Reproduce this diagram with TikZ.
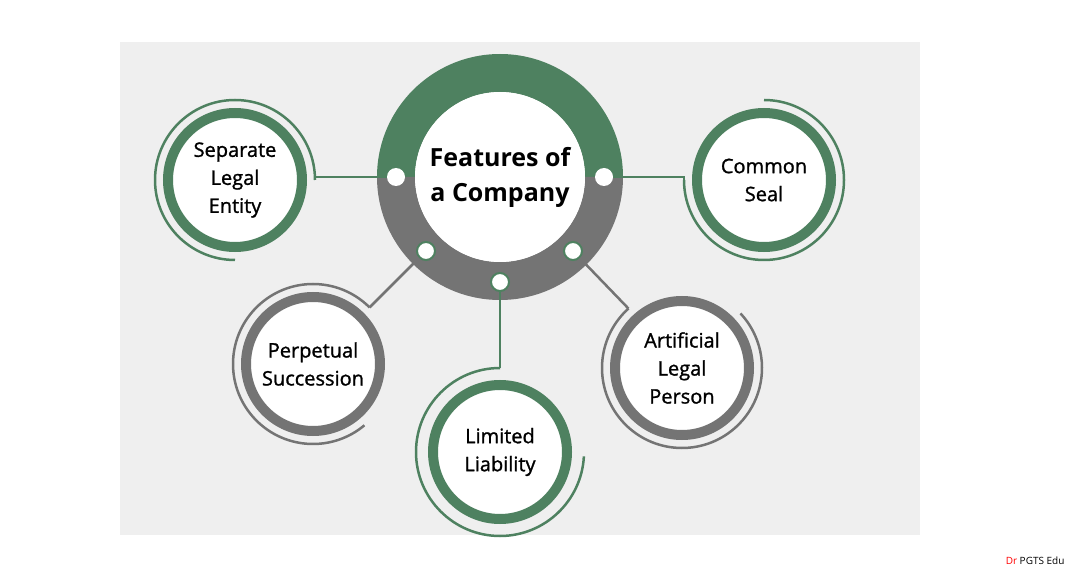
\documentclass[tikz,border=0pt]{standalone}
\usepackage{fontspec}
\setmainfont{Open Sans}
\newfontfamily\medfont[FakeBold=1.2]{Open Sans}
\usetikzlibrary{positioning}
\definecolor{cogreen}{HTML}{4E8160}
\definecolor{cogray}{HTML}{747474}
\definecolor{cobg}{HTML}{EFEFEF}
\tikzset{
    feature/.style = {circle, fill=white, draw=#1, line width=10pt, minimum size=134pt,
        inner sep=0pt, align=center, font=\fontsize{20}{28}\medfont},
    halo/.style = {draw=#1, line width=2.5pt},
    link/.style = {draw=#1, line width=2.5pt},
    hubdot/.style = {circle, fill=white, minimum size=18pt, inner sep=0pt},
    gdot/.style = {hubdot, draw=cogreen, line width=2pt},
}
\begin{document}
\begin{tikzpicture}[x=1pt, y=-1pt]
    \useasboundingbox (0,0) rectangle (1080,580);
    \fill[cobg] (120,42) rectangle (920,535);
    % hub ring
    \fill[cogreen] (377,177) arc[start angle=180, end angle=360, radius=123]
        -- (585,177) arc[start angle=360, end angle=180, radius=85] -- cycle;
    \fill[cogray] (377,177) arc[start angle=180, end angle=0, radius=123]
        -- (585,177) arc[start angle=0, end angle=180, radius=85] -- cycle;
    \node (hub) [circle, fill=white, minimum size=170pt, inner sep=0pt, align=center,
        font=\fontsize{25}{35}\selectfont\bfseries] at (500,177) {Features of\\a Company};
    \node (d1) [hubdot] at (396,177) {};
    \node (d2) [hubdot] at (604,177) {};
    \node (d3) [gdot] at (426,251) {};
    \node (d4) [gdot] at (500,282) {};
    \node (d5) [gdot] at (573,251) {};
    % features
    \node (sep) [feature=cogreen] at (235,180) {Separate\\Legal\\Entity};
    \node (seal) [feature=cogreen] at (764,180) {Common\\Seal};
    \node (perp) [feature=cogray] at (313,364) {Perpetual\\Succession};
    \node (lim) [feature=cogreen] at (500,452) {Limited\\Liability};
    \node (art) [feature=cogray] at (682,368) {Artificial\\Legal\\Person};
    % halos
    \draw[halo=cogreen] (sep.center) ++(0,80) arc[start angle=90, end angle=360, radius=80]
        coordinate (sepend);
    \draw[halo=cogreen] (seal.center) ++(-80,0) coordinate (sealend)
        arc[start angle=180, end angle=-90, radius=80];
    \draw[halo=cogray] (perp.center) ++(-45:80) coordinate (perpend)
        arc[start angle=-45, end angle=-310, radius=80];
    \draw[halo=cogreen] (lim.center) ++(0,-84) coordinate (limend)
        arc[start angle=-90, end angle=-357, radius=84];
    \draw[halo=cogray] (art.center) ++(-132:80) coordinate (artend)
        arc[start angle=-132, end angle=-403, radius=80];
    % links
    \draw[link=cogreen] (d1) -- (d1 -| sepend) -- (sepend);
    \draw[link=cogreen] (d2) -- (d2 -| sealend) -- (sealend);
    \draw[link=cogray] (d3) -- (perpend);
    \draw[link=cogreen] (d4) -- (limend);
    \draw[link=cogray] (d5) -- (artend);
    \node (credit) [anchor=east, font=\fontsize{10}{12}\selectfont] at (1068,561)
        {\textcolor{red}{Dr} PGTS Edu};
\end{tikzpicture}
\end{document}
